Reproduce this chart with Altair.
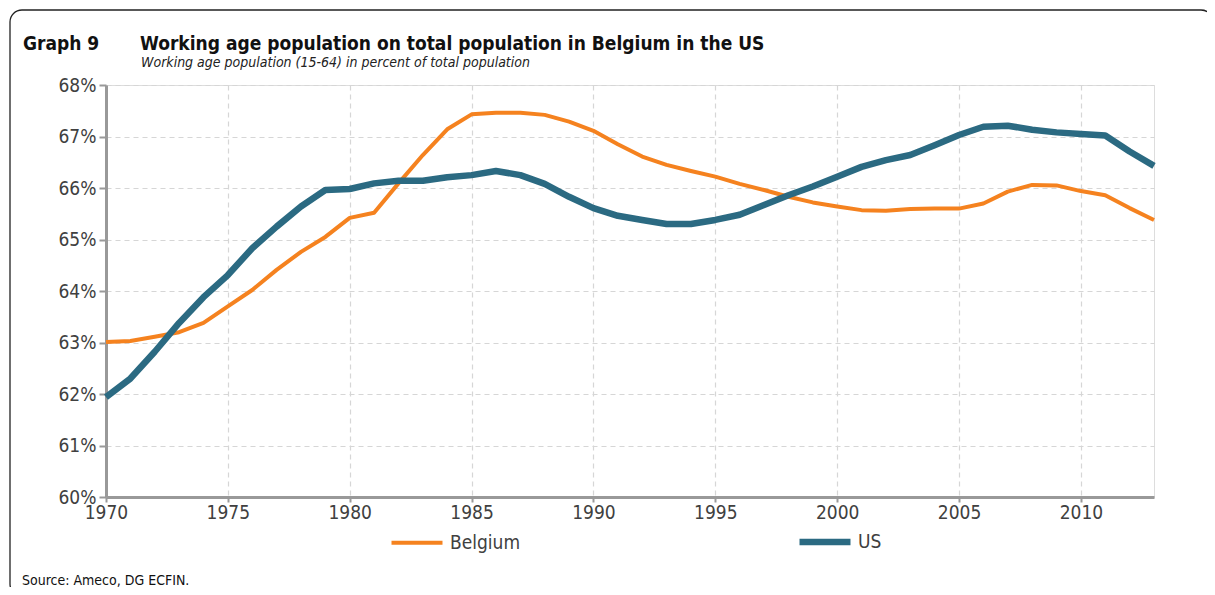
import altair as alt
import pandas as pd

years = list(range(1970, 2014))
belgium = [63.01, 63.03, 63.11, 63.20, 63.38, 63.70, 64.02, 64.41, 64.76, 65.05,
           65.42, 65.52, 66.09, 66.64, 67.14, 67.43, 67.46, 67.46, 67.42, 67.29,
           67.11, 66.85, 66.61, 66.45, 66.33, 66.22, 66.08, 65.96, 65.83, 65.72,
           65.64, 65.57, 65.56, 65.59, 65.60, 65.60, 65.70, 65.93, 66.06, 66.05,
           65.94, 65.86, 65.61, 65.38]
us = [61.94, 62.30, 62.82, 63.38, 63.88, 64.31, 64.83, 65.25, 65.64, 65.96,
      65.98, 66.09, 66.14, 66.14, 66.21, 66.25, 66.33, 66.25, 66.08, 65.83,
      65.61, 65.46, 65.38, 65.30, 65.30, 65.38, 65.48, 65.67, 65.86, 66.03,
      66.22, 66.41, 66.54, 66.64, 66.83, 67.03, 67.19, 67.21, 67.13, 67.08,
      67.05, 67.02, 66.71, 66.43]
series_names = ["Belgium", "US"]
series_colors = ["#F5821F", "#2B6A82"]
series_widths = [4, 6.5]
x_ticks = [1970, 1975, 1980, 1985, 1990, 1995, 2000, 2005, 2010]
y_ticks = [60, 61, 62, 63, 64, 65, 66, 67, 68]

graph_label = "Graph 9"
title_text = "Working age population on total population in Belgium in the US"
subtitle_text = "Working age population (15-64) in percent of total population"
source_text = "Source: Ameco, DG ECFIN."

FONT = "DejaVu Sans Condensed"

df = pd.DataFrame({
    "year": years * 2,
    "value": belgium + us,
    "series": ["Belgium"] * len(years) + ["US"] * len(years),
})

W, H = 1048, 412

lines = alt.Chart(df).mark_line(strokeJoin="round", strokeCap="butt").encode(
    x=alt.X("year:Q", scale=alt.Scale(domain=[1970, 2013], nice=False),
            axis=alt.Axis(values=x_ticks, format="d", title=None, grid=True,
                          gridDash=[5, 4], gridColor="#d6d6d6", gridWidth=1.2,
                          tickSize=5, tickColor="#999999", tickWidth=2,
                          domainColor="#999999", domainWidth=3,
                          labelFont=FONT, labelFontSize=19, labelColor="#404040",
                          labelPadding=1, labelFlush=False)),
    y=alt.Y("value:Q", scale=alt.Scale(domain=[60, 68], nice=False, zero=False),
            axis=alt.Axis(values=y_ticks, labelExpr="datum.value + '%'", title=None,
                          grid=True, gridDash=[5, 4], gridColor="#d6d6d6", gridWidth=1.2,
                          tickSize=7, tickColor="#999999", tickWidth=2,
                          domainColor="#999999", domainWidth=3,
                          labelFont=FONT, labelFontSize=19, labelColor="#404040",
                          labelPadding=3)),
    color=alt.Color("series:N",
                    scale=alt.Scale(domain=series_names, range=series_colors),
                    legend=alt.Legend(title=None, orient="none", legendX=282, legendY=428,
                                      direction="horizontal", columns=2, columnPadding=265,
                                      symbolType="stroke", symbolSize=2600,
                                      symbolStrokeWidth=5, labelFont=FONT,
                                      labelFontSize=19, labelColor="#404040",
                                      labelOffset=4)),
    strokeWidth=alt.StrokeWidth("series:N",
                                scale=alt.Scale(domain=series_names, range=series_widths),
                                legend=None),
)

frame = alt.Chart(pd.DataFrame({"k": [0]})).mark_rect(
    fill=None, stroke="#222222", strokeWidth=1.3, cornerRadius=12
).encode(x=alt.value(-96), x2=alt.value(1107), y=alt.value(-75), y2=alt.value(511))

labels_df = pd.DataFrame({"g": [graph_label], "t": [title_text],
                          "s": [subtitle_text], "src": [source_text]})
base_txt = alt.Chart(labels_df)
g_txt = base_txt.mark_text(align="left", baseline="alphabetic", font=FONT, fontSize=19,
                           fontWeight="bold", color="#111111").encode(
    text="g:N", x=alt.value(-83), y=alt.value(-35))
t_txt = base_txt.mark_text(align="left", baseline="alphabetic", font=FONT, fontSize=19,
                           fontWeight="bold", color="#111111").encode(
    text="t:N", x=alt.value(34), y=alt.value(-35))
s_txt = base_txt.mark_text(align="left", baseline="alphabetic", font=FONT, fontSize=14,
                           fontStyle="italic", color="#222222").encode(
    text="s:N", x=alt.value(35), y=alt.value(-18))
src_txt = base_txt.mark_text(align="left", baseline="alphabetic", font=FONT, fontSize=14,
                             color="#111111").encode(
    text="src:N", x=alt.value(-84), y=alt.value(500))

chart = alt.layer(frame, lines, g_txt, t_txt, s_txt, src_txt).properties(
    width=W, height=H,
    autosize=alt.AutoSizeParams(type="none"),
    padding={"left": 98, "top": 77, "right": 53, "bottom": 90},
).configure_view(stroke="#999999", strokeWidth=3).configure(background="white")

chart.save("out.html", embed_options={"renderer": "svg", "actions": False})
